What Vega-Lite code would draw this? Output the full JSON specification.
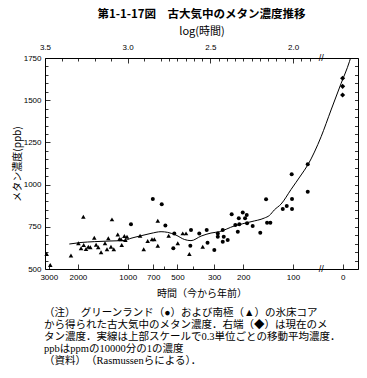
{
  "$schema": "https://vega.github.io/schema/vega-lite/v6.json",
  "background": "white",
  "padding": {"left": 12, "top": 8, "right": 8, "bottom": 2},
  "spacing": 9,
  "config": {
    "view": {"stroke": null},
    "font": "Noto Sans CJK JP",
    "axis": {
      "grid": false,
      "domainColor": "black",
      "domainWidth": 1,
      "tickColor": "black",
      "tickWidth": 0.8,
      "labelColor": "black",
      "titleColor": "black",
      "labelFont": "Liberation Sans",
      "labelFontSize": 8,
      "labelFlush": false,
      "labelOverlap": false,
      "titleFont": "Noto Sans CJK JP",
      "titleFontWeight": "normal",
      "titleFontSize": 10
    }
  },
  "vconcat": [
    {
      "width": 313,
      "height": 211,
      "title": {
        "text": "第1-1-17図　古大気中のメタン濃度推移",
        "frame": "group",
        "anchor": "middle",
        "fontSize": 11.5,
        "fontWeight": "bold",
        "font": "Noto Sans CJK JP",
        "color": "black",
        "offset": 5
      },
      "layer": [
        {
          "data": {
            "values": [
              {"logt": 3.353, "ppb": 648}, {"logt": 3.282, "ppb": 657}, {"logt": 3.202, "ppb": 662},
              {"logt": 3.101, "ppb": 666}, {"logt": 3.02, "ppb": 669}, {"logt": 2.98, "ppb": 682},
              {"logt": 2.919, "ppb": 697}, {"logt": 2.859, "ppb": 711}, {"logt": 2.798, "ppb": 721},
              {"logt": 2.758, "ppb": 717}, {"logt": 2.708, "ppb": 701}, {"logt": 2.657, "ppb": 675},
              {"logt": 2.617, "ppb": 668}, {"logt": 2.556, "ppb": 695}, {"logt": 2.496, "ppb": 713},
              {"logt": 2.446, "ppb": 721}, {"logt": 2.355, "ppb": 755}, {"logt": 2.254, "ppb": 780},
              {"logt": 2.173, "ppb": 802}, {"logt": 2.143, "ppb": 817}, {"logt": 2.113, "ppb": 850},
              {"logt": 2.072, "ppb": 885}, {"logt": 2.012, "ppb": 971}, {"logt": 1.951, "ppb": 1057},
              {"logt": 1.911, "ppb": 1116}, {"logt": 1.83, "ppb": 1284}, {"logt": 1.77, "ppb": 1442},
              {"logt": 1.709, "ppb": 1600}, {"logt": 1.659, "ppb": 1728}, {"logt": 1.64, "ppb": 1790}
            ]
          },
          "mark": {"type": "line", "color": "black", "strokeWidth": 1, "clip": true, "interpolate": "monotone"},
          "encoding": {
            "x": {
              "field": "logt", "type": "quantitative",
              "scale": {"domain": [3.5, 1.607], "nice": false, "zero": false},
              "axis": {
                "orient": "top",
                "title": "log(時間)",
                "titleFontSize": 11,
                "titlePadding": 5,
                "values": [3.5, 3.4, 3.3, 3.2, 3.1, 3.0, 2.9, 2.8, 2.75, 2.7, 2.65, 2.6, 2.55, 2.5, 2.45, 2.4, 2.35, 2.3, 2.25, 2.2, 2.15, 2.1, 2.05, 2.0, 1.95, 1.9],
                "labelExpr": "abs(datum.value * 2 - round(datum.value * 2)) < 0.001 ? format(datum.value, '.1f') : ''",
                "tickSize": {"condition": {"test": "abs(datum.value * 2 - round(datum.value * 2)) < 0.001", "value": -5}, "value": -3},
                "labelPadding": 12
              }
            },
            "y": {
              "field": "ppb", "type": "quantitative",
              "scale": {"domain": [500, 1750], "nice": false, "zero": false},
              "axis": {
                "orient": "right",
                "title": null,
                "labels": false,
                "values": [500, 550, 600, 650, 700, 750, 800, 850, 900, 950, 1000, 1050, 1100, 1150, 1200, 1250, 1300, 1350, 1400, 1450, 1500, 1550, 1600, 1650, 1700, 1750],
                "tickSize": -3.5
              }
            }
          }
        },
        {
          "data": {
            "values": [
              {"site": "南極", "logt": 3.49, "ppb": 589}, {"site": "南極", "logt": 3.468, "ppb": 524},
              {"site": "南極", "logt": 3.343, "ppb": 580}, {"site": "南極", "logt": 3.268, "ppb": 810},
              {"site": "南極", "logt": 3.095, "ppb": 794}, {"site": "南極", "logt": 3.298, "ppb": 652},
              {"site": "南極", "logt": 3.282, "ppb": 623}, {"site": "南極", "logt": 3.266, "ppb": 642},
              {"site": "南極", "logt": 3.252, "ppb": 618}, {"site": "南極", "logt": 3.238, "ppb": 632},
              {"site": "南極", "logt": 3.226, "ppb": 629}, {"site": "南極", "logt": 3.202, "ppb": 685},
              {"site": "南極", "logt": 3.191, "ppb": 644}, {"site": "南極", "logt": 3.178, "ppb": 629},
              {"site": "南極", "logt": 3.161, "ppb": 599}, {"site": "南極", "logt": 3.137, "ppb": 652},
              {"site": "南極", "logt": 3.125, "ppb": 617}, {"site": "南極", "logt": 3.117, "ppb": 682},
              {"site": "南極", "logt": 3.101, "ppb": 632}, {"site": "南極", "logt": 3.084, "ppb": 617},
              {"site": "南極", "logt": 3.06, "ppb": 705}, {"site": "南極", "logt": 3.05, "ppb": 678},
              {"site": "南極", "logt": 3.04, "ppb": 676}, {"site": "南極", "logt": 3.036, "ppb": 642},
              {"site": "南極", "logt": 3.014, "ppb": 672}, {"site": "南極", "logt": 3.02, "ppb": 695},
              {"site": "南極", "logt": 3.004, "ppb": 691}, {"site": "南極", "logt": 2.925, "ppb": 697},
              {"site": "南極", "logt": 2.903, "ppb": 617}, {"site": "南極", "logt": 2.879, "ppb": 666},
              {"site": "南極", "logt": 2.853, "ppb": 676}, {"site": "南極", "logt": 2.839, "ppb": 676},
              {"site": "南極", "logt": 2.818, "ppb": 786}, {"site": "南極", "logt": 2.818, "ppb": 638},
              {"site": "南極", "logt": 2.752, "ppb": 697}, {"site": "南極", "logt": 2.697, "ppb": 652},
              {"site": "南極", "logt": 2.667, "ppb": 711}, {"site": "南極", "logt": 2.647, "ppb": 711},
              {"site": "南極", "logt": 2.627, "ppb": 589}, {"site": "南極", "logt": 2.546, "ppb": 632},
              {"site": "グリーンランド", "logt": 2.98, "ppb": 765}, {"site": "グリーンランド", "logt": 2.848, "ppb": 915},
              {"site": "グリーンランド", "logt": 2.794, "ppb": 883}, {"site": "グリーンランド", "logt": 2.772, "ppb": 757},
              {"site": "グリーンランド", "logt": 2.718, "ppb": 711}, {"site": "グリーンランド", "logt": 2.724, "ppb": 623},
              {"site": "グリーンランド", "logt": 2.617, "ppb": 731}, {"site": "グリーンランド", "logt": 2.621, "ppb": 638},
              {"site": "グリーンランド", "logt": 2.567, "ppb": 711}, {"site": "グリーンランド", "logt": 2.522, "ppb": 731},
              {"site": "グリーンランド", "logt": 2.517, "ppb": 656}, {"site": "グリーンランド", "logt": 2.476, "ppb": 613},
              {"site": "グリーンランド", "logt": 2.455, "ppb": 711}, {"site": "グリーンランド", "logt": 2.455, "ppb": 691},
              {"site": "グリーンランド", "logt": 2.425, "ppb": 731}, {"site": "グリーンランド", "logt": 2.419, "ppb": 691},
              {"site": "グリーンランド", "logt": 2.425, "ppb": 662}, {"site": "グリーンランド", "logt": 2.395, "ppb": 672},
              {"site": "グリーンランド", "logt": 2.371, "ppb": 824}, {"site": "グリーンランド", "logt": 2.349, "ppb": 761},
              {"site": "グリーンランド", "logt": 2.328, "ppb": 800}, {"site": "グリーンランド", "logt": 2.334, "ppb": 721},
              {"site": "グリーンランド", "logt": 2.325, "ppb": 765}, {"site": "グリーンランド", "logt": 2.304, "ppb": 834},
              {"site": "グリーンランド", "logt": 2.29, "ppb": 800}, {"site": "グリーンランド", "logt": 2.28, "ppb": 820},
              {"site": "グリーンランド", "logt": 2.278, "ppb": 771}, {"site": "グリーンランド", "logt": 2.244, "ppb": 755},
              {"site": "グリーンランド", "logt": 2.198, "ppb": 715}, {"site": "グリーンランド", "logt": 2.163, "ppb": 913},
              {"site": "グリーンランド", "logt": 2.157, "ppb": 774}, {"site": "グリーンランド", "logt": 2.137, "ppb": 774},
              {"site": "グリーンランド", "logt": 2.062, "ppb": 855}, {"site": "グリーンランド", "logt": 2.038, "ppb": 873},
              {"site": "グリーンランド", "logt": 2.006, "ppb": 915}, {"site": "グリーンランド", "logt": 2.006, "ppb": 855},
              {"site": "グリーンランド", "logt": 2.008, "ppb": 1061}, {"site": "グリーンランド", "logt": 1.911, "ppb": 958},
              {"site": "グリーンランド", "logt": 1.911, "ppb": 1120},
              {"site": "現在", "logt": 1.70, "ppb": 1630}, {"site": "現在", "logt": 1.70, "ppb": 1582},
              {"site": "現在", "logt": 1.70, "ppb": 1531}
            ]
          },
          "mark": {"type": "point", "filled": true, "color": "black", "opacity": 1},
          "encoding": {
            "x": {
              "field": "logt", "type": "quantitative",
              "scale": {"domain": [3.5, 1.607], "nice": false, "zero": false},
              "axis": {
                "orient": "bottom",
                "title": "時間（今から年前）",
                "titlePadding": 5,
                "values": [3.4771, 3.301, 3.0, 2.8451, 2.7782, 2.699, 2.6021, 2.4771, 2.301, 2.0, 1.70],
                "labelExpr": "datum.value < 1.8 ? '0' : ((abs(datum.value - 2.7782) < 0.001 || abs(datum.value - 2.6021) < 0.001) ? '' : format(round(pow(10, datum.value)), 'd'))",
                "tickSize": {"condition": {"test": "abs(datum.value - 2.7782) < 0.001 || abs(datum.value - 2.6021) < 0.001", "value": -3}, "value": -5},
                "labelPadding": 9
              }
            },
            "y": {
              "field": "ppb", "type": "quantitative",
              "scale": {"domain": [500, 1750], "nice": false, "zero": false},
              "axis": {
                "orient": "left",
                "title": "メタン濃度(ppb)",
                "titlePadding": 1,
                "values": [500, 550, 600, 650, 700, 750, 800, 850, 900, 950, 1000, 1050, 1100, 1150, 1200, 1250, 1300, 1350, 1400, 1450, 1500, 1550, 1600, 1650, 1700, 1750],
                "labelExpr": "datum.value % 250 === 0 ? format(datum.value, 'd') : ''",
                "tickSize": {"condition": {"test": "datum.value % 250 === 0", "value": -5}, "value": -3},
                "labelPadding": 9
              }
            },
            "shape": {
              "field": "site", "type": "nominal",
              "scale": {"domain": ["グリーンランド", "南極", "現在"], "range": ["circle", "triangle-up", "diamond"]},
              "legend": null
            },
            "size": {
              "field": "site", "type": "nominal",
              "scale": {"domain": ["グリーンランド", "南極", "現在"], "range": [16, 26, 20]},
              "legend": null
            }
          }
        },
        {
          "data": {"values": [{"logt": 1.83, "ppb": 1750}, {"logt": 1.83, "ppb": 500}]},
          "mark": {"type": "text", "text": "//", "fontSize": 9, "font": "Liberation Sans", "color": "black", "baseline": "middle", "align": "center"},
          "encoding": {
            "x": {"field": "logt", "type": "quantitative", "scale": {"domain": [3.5, 1.607], "nice": false, "zero": false}, "axis": null},
            "y": {"field": "ppb", "type": "quantitative", "scale": {"domain": [500, 1750], "nice": false, "zero": false}, "axis": null}
          }
        }
      ],
      "resolve": {"axis": {"x": "independent", "y": "independent"}}
    },
    {
      "width": 313,
      "height": 60,
      "data": {
        "values": [
          {"line": 1, "note": "（注）　グリーンランド（●）および南極（▲）の氷床コア"},
          {"line": 2, "note": "から得られた古大気中のメタン濃度．右端（◆）は現在のメ"},
          {"line": 3, "note": "タン濃度．実線は上部スケールで0.3単位ごとの移動平均濃度．"},
          {"line": 4, "note": "ppbはppmの10000分の1の濃度"},
          {"line": 5, "note": "（資料）　（Rasmussenらによる）．"}
        ]
      },
      "mark": {"type": "text", "align": "left", "baseline": "middle", "fontSize": 10.5, "font": "Liberation Serif, Noto Sans CJK JP", "color": "black"},
      "encoding": {
        "y": {"field": "line", "type": "ordinal", "axis": null},
        "x": {"value": -1},
        "text": {"field": "note"}
      }
    }
  ]
}
